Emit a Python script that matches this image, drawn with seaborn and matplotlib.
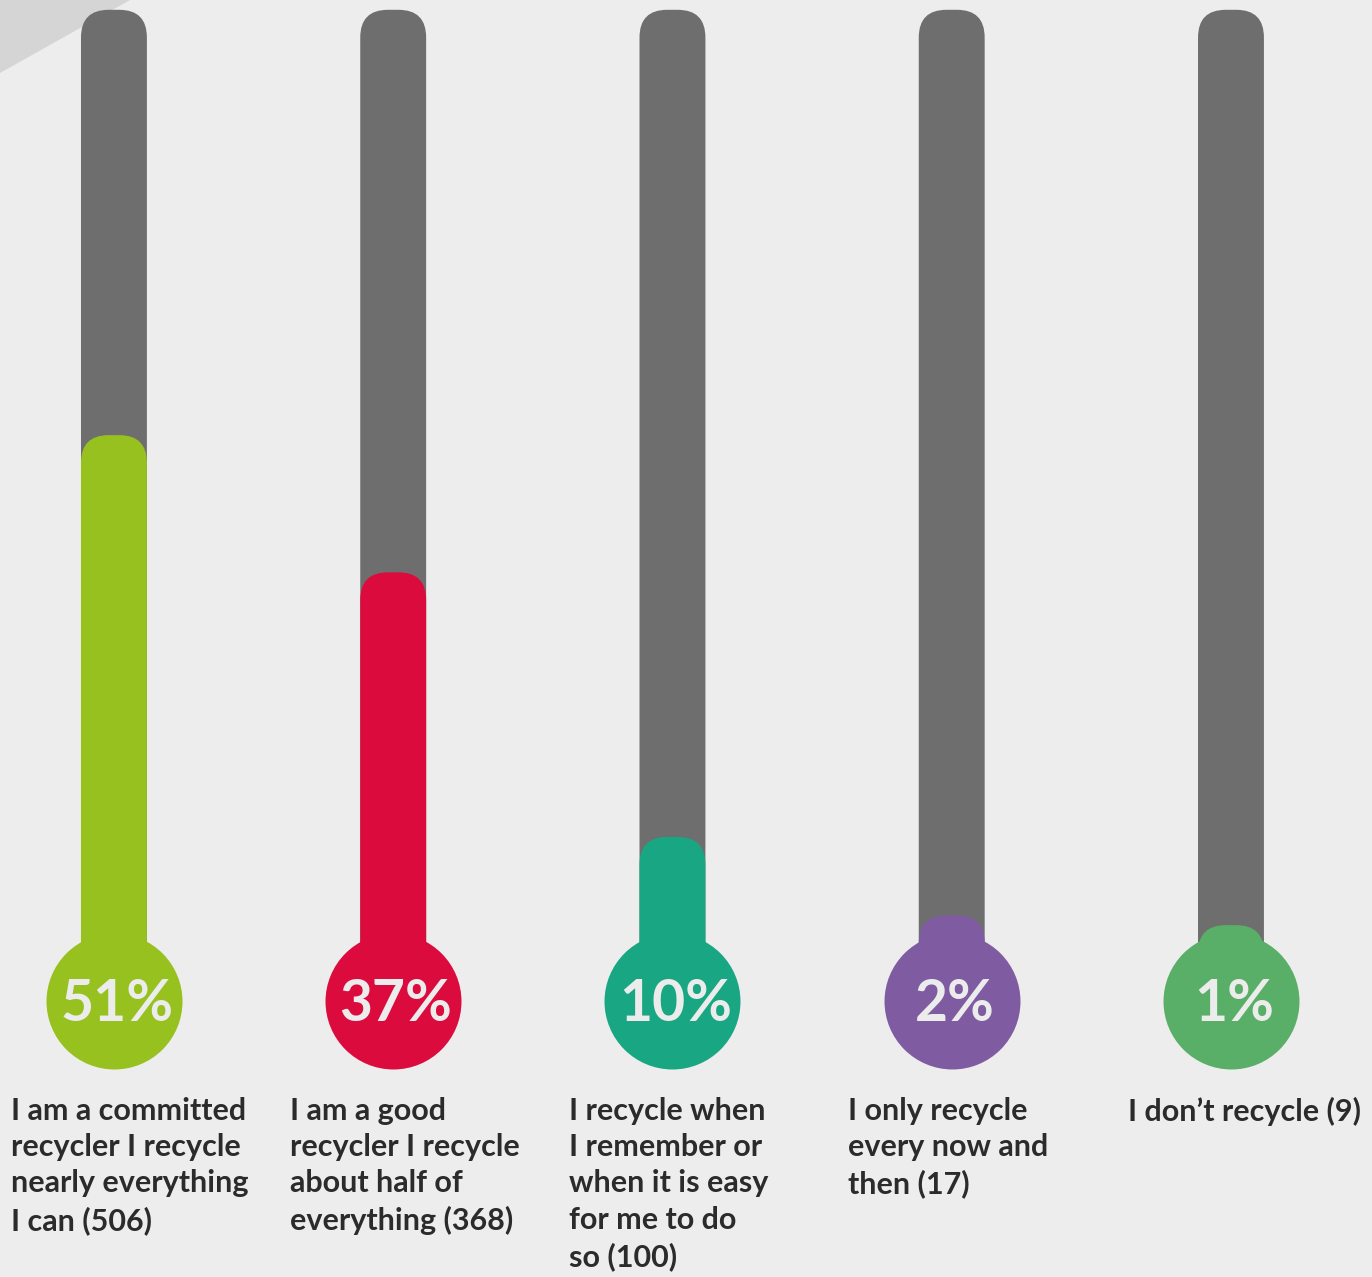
import numpy as np
import pandas as pd
import matplotlib
matplotlib.use("Agg")
import matplotlib.pyplot as plt
from matplotlib.patches import FancyBboxPatch, Polygon
import seaborn as sns

# Survey: how people describe their own recycling
categories = ["committed", "good", "when easy", "now and then", "none"]
shares = [51, 37, 10, 2, 1]
pct_labels = ["51%", "37%", "10%", "2%", "1%"]
descriptions = [
    "I am a committed\nrecycler I recycle\nnearly everything\nI can (506)",
    "I am a good\nrecycler I recycle\nabout half of\neverything (368)",
    "I recycle when\nI remember or\nwhen it is easy\nfor me to do\nso (100)",
    "I only recycle\nevery now and\nthen (17)",
    "I don\u2019t recycle (9)",
]
colors = ["#96c11f", "#dc0b3d", "#18a782", "#7f5ca1", "#5aaf68"]

BG = "#ededed"
TUBE = "#6e6e6e"
TEXT = "#2b2b2b"
TUBE_TOP = 94.4      # height of the empty glass tube, in percent units
BULB_Y = -6.7        # centre of each thermometer bulb
BAR_W = 0.236

sns.set_theme(style="white")
plt.rcParams["font.family"] = ["Lato", "DejaVu Sans"]

fig = plt.figure(figsize=(13.72, 12.77), dpi=100, facecolor=BG)
ax = fig.add_axes([0, 0, 1, 1])
ax.patch.set_visible(False)

df = pd.DataFrame({
    "category": categories,
    "share": shares,
    "tube": [TUBE_TOP] * len(categories),
    "bulb": [BULB_Y] * len(categories),
})

# empty tubes
sns.barplot(data=df, x="category", y="tube", color=TUBE, width=BAR_W,
            saturation=1, ax=ax)
n_tubes = len(ax.patches)
# mercury columns
sns.barplot(data=df, x="category", y="share", hue="category", palette=colors,
            width=BAR_W, saturation=1, legend=False, ax=ax)

ax.set_xlim(-0.408, 4.505)
ax.set_ylim(-34.9, 95.4)
ax.set_axis_off()

# turn the plain bars into rounded-top columns starting at the bulb centre
fig.canvas.draw()
px = ax.transData.transform([[0, 0], [1, 1]])
aspect = abs(px[1, 0] - px[0, 0]) / abs(px[1, 1] - px[0, 1])
for i, p in enumerate(list(ax.patches)):
    x0, w, h = p.get_x(), p.get_width(), p.get_height()
    fc = p.get_facecolor()
    p.remove()
    rb = FancyBboxPatch((x0, BULB_Y), w, h - BULB_Y,
                        boxstyle=f"round,pad=0,rounding_size={w * 0.42}",
                        mutation_aspect=aspect, facecolor=fc,
                        edgecolor="none", zorder=1 if i < n_tubes else 2)
    ax.add_patch(rb)

# bulbs
sns.stripplot(data=df, x="category", y="bulb", hue="category", palette=colors,
              size=97.9, jitter=False, linewidth=0, legend=False, ax=ax,
              zorder=3)
ax.set_xlim(-0.408, 4.505)
ax.set_ylim(-34.9, 95.4)
ax.set_axis_off()

for i, (lab, desc) in enumerate(zip(pct_labels, descriptions)):
    ax.text(i + 0.01, BULB_Y - 0.4, lab, ha="center", va="center",
            fontsize=41, fontweight="bold", color="#ececec", zorder=5)
    ax.text(i - 0.37, -16.5, desc, ha="left", va="top", fontsize=22,
            fontweight="bold", color=TEXT, linespacing=1.36, zorder=5)

# decorative corner band
fig.add_artist(Polygon([[0, 1], [130 / 1372, 1], [0, 1 - 73 / 1277]],
                       closed=True, transform=fig.transFigure,
                       facecolor="#d5d5d5", edgecolor="none", zorder=-1))

fig.savefig("out.png", dpi=100, facecolor=BG)
